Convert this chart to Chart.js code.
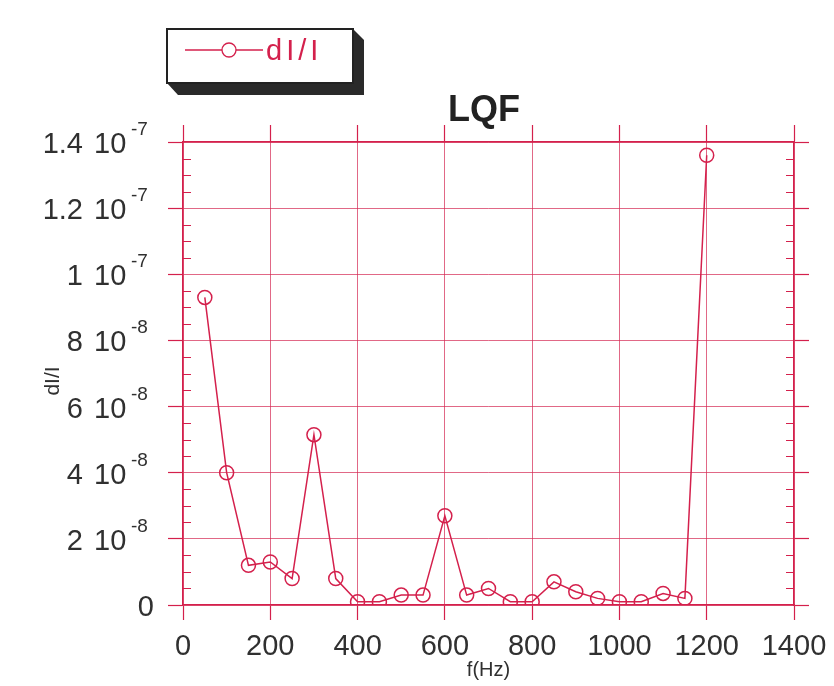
<!DOCTYPE html>
<html>
<head>
<meta charset="utf-8">
<script src="https://cdn.jsdelivr.net/npm/chart.js@4/dist/chart.umd.min.js"></script>
<style>
  html, body { margin: 0; padding: 0; background: #ffffff; }
  #wrap { position: relative; width: 834px; height: 686px; }
</style>
</head>
<body>
<div id="wrap"><canvas id="c" width="834" height="686"></canvas></div>
<script>
// ---- data ----
const chartTitle = 'LQF';
const seriesName = 'dI/I';
const xAxisTitle = 'f(Hz)';
const yAxisTitle = 'dI/I';
const freqs = [50, 100, 150, 200, 250, 300, 350, 400, 450, 500, 550, 600,
               650, 700, 750, 800, 850, 900, 950, 1000, 1050, 1100, 1150, 1200];
const dIoverI = [9.3e-8, 4.0e-8, 1.2e-8, 1.3e-8, 0.8e-8, 5.15e-8, 0.8e-8, 0.1e-8,
                 0.1e-8, 0.3e-8, 0.3e-8, 2.7e-8, 0.3e-8, 0.5e-8, 0.1e-8, 0.1e-8,
                 0.7e-8, 0.4e-8, 0.2e-8, 0.1e-8, 0.1e-8, 0.35e-8, 0.2e-8, 1.36e-7];
const xTickValues = [0, 200, 400, 600, 800, 1000, 1200, 1400];
const xTickLabels = ['0', '200', '400', '600', '800', '1000', '1200', '1400'];
const yTickValues = [0, 2e-8, 4e-8, 6e-8, 8e-8, 1e-7, 1.2e-7, 1.4e-7];
const yTickMantissa = ['0', '2', '4', '6', '8', '1', '1.2', '1.4'];
const yTickExponent = ['', '-8', '-8', '-8', '-8', '-7', '-7', '-7'];
const yMinorStep = 5e-9;

// ---- styles ----
const RED = 'rgb(212,32,76)';
const GRID = 'rgba(212,40,82,0.7)';
const TEXT = '#303030';
const FONT = "'Liberation Sans', Arial, sans-serif";

const decor = {
  id: 'decor',
  afterDraw(chart) {
    const ctx = chart.ctx;
    const ys = chart.scales.y;
    const ca = chart.chartArea;
    ctx.save();

    // minor ticks on left and right axes (inside)
    ctx.strokeStyle = RED;
    ctx.lineWidth = 1.2;
    const vmax = yTickValues[yTickValues.length - 1];
    for (let k = 1; k * yMinorStep < vmax - 1e-12; k++) {
      if (k % 4 === 0) continue;
      const py = Math.round(ys.getPixelForValue(k * yMinorStep)) + 0.5;
      ctx.beginPath();
      ctx.moveTo(ca.left, py); ctx.lineTo(ca.left + 8, py);
      ctx.moveTo(ca.right, py); ctx.lineTo(ca.right - 8, py);
      ctx.stroke();
    }

    // y tick labels with exponent
    ctx.fillStyle = TEXT;
    ctx.textBaseline = 'alphabetic';
    for (let i = 0; i < yTickValues.length; i++) {
      const py = ys.getPixelForValue(yTickValues[i]);
      if (yTickExponent[i] === '') {
        ctx.font = '29px ' + FONT;
        ctx.textAlign = 'right';
        ctx.fillText(yTickMantissa[i], 154, py + 11);
        continue;
      }
      ctx.font = '29px ' + FONT;
      ctx.textAlign = 'right';
      ctx.fillText(yTickMantissa[i], 83, py + 11);
      ctx.textAlign = 'left';
      ctx.fillText('10', 94, py + 11);
      ctx.font = '19px ' + FONT;
      ctx.fillText(yTickExponent[i], 131, py - 7);
    }

    // y axis title
    ctx.save();
    ctx.translate(53, 381);
    ctx.rotate(-Math.PI / 2);
    ctx.font = '21px ' + FONT;
    ctx.textAlign = 'center';
    ctx.textBaseline = 'middle';
    ctx.fillText(yAxisTitle, 0, 0);
    ctx.restore();

    // chart title
    ctx.font = 'bold 36px ' + FONT;
    ctx.fillStyle = '#222';
    ctx.textAlign = 'center';
    ctx.textBaseline = 'alphabetic';
    ctx.fillText(chartTitle, 484, 121);

    // legend box with 3D shadow
    const L = 167, T = 29, R = 353, B = 83, D = 11;
    ctx.fillStyle = '#2a2a2a';
    ctx.beginPath();
    ctx.moveTo(R, T);
    ctx.lineTo(R + D, T + D);
    ctx.lineTo(R + D, B + D + 1);
    ctx.lineTo(L + D, B + D + 1);
    ctx.lineTo(L, B);
    ctx.closePath();
    ctx.fill();
    ctx.fillStyle = '#fff';
    ctx.fillRect(L, T, R - L, B - T);
    ctx.strokeStyle = '#222';
    ctx.lineWidth = 2;
    ctx.strokeRect(L, T, R - L, B - T);
    // legend symbol
    ctx.strokeStyle = RED;
    ctx.lineWidth = 1.3;
    ctx.beginPath();
    ctx.moveTo(185, 50); ctx.lineTo(263, 50);
    ctx.stroke();
    ctx.beginPath();
    ctx.arc(229, 50, 7, 0, Math.PI * 2);
    ctx.fillStyle = '#fff';
    ctx.fill();
    ctx.stroke();
    ctx.fillStyle = RED;
    ctx.font = '29px ' + FONT;
    ctx.textAlign = 'left';
    if ('letterSpacing' in ctx) ctx.letterSpacing = '4px';
    ctx.fillText(seriesName, 266, 60);
    if ('letterSpacing' in ctx) ctx.letterSpacing = '0px';

    ctx.restore();
  }
};

const gridCommon = {
  color: GRID,
  lineWidth: 1,
  tickLength: 15,
  tickColor: RED,
  tickWidth: 1.2
};
const borderCommon = { display: true, color: RED, width: 1.5 };

new Chart(document.getElementById('c'), {
  type: 'line',
  data: {
    datasets: [{
      label: seriesName,
      data: freqs.map((f, i) => ({ x: f, y: dIoverI[i] })),
      borderColor: RED,
      borderWidth: 1.5,
      pointStyle: 'circle',
      pointRadius: 7,
      pointBorderWidth: 1.5,
      pointBorderColor: RED,
      pointBackgroundColor: 'rgba(255,255,255,0)',
      tension: 0,
      fill: false
    }]
  },
  options: {
    responsive: false,
    animation: false,
    devicePixelRatio: 1,
    layout: { padding: 0 },
    plugins: { legend: { display: false }, title: { display: false }, tooltip: { enabled: false } },
    scales: {
      x: {
        type: 'linear', position: 'bottom', min: 0, max: 1400,
        afterBuildTicks: s => { s.ticks = xTickValues.map(v => ({ value: v })); },
        afterFit: s => { s.height = 81; s.paddingLeft = 0; s.paddingRight = 0; },
        grid: gridCommon,
        border: borderCommon,
        ticks: {
          color: TEXT, padding: 10,
          font: { family: FONT, size: 29 },
          maxRotation: 0, autoSkip: false,
          callback: v => { const i = xTickValues.indexOf(v); return i >= 0 ? xTickLabels[i] : ''; }
        },
        title: { display: true, text: xAxisTitle, color: TEXT, font: { family: FONT, size: 20 }, padding: { top: 0, bottom: 4 } }
      },
      x2: {
        type: 'linear', position: 'top', min: 0, max: 1400,
        afterBuildTicks: s => { s.ticks = xTickValues.map(v => ({ value: v })); },
        afterFit: s => { s.height = 142; s.paddingLeft = 0; s.paddingRight = 0; },
        grid: Object.assign({}, gridCommon, { drawOnChartArea: false, tickLength: 17 }),
        border: borderCommon,
        ticks: { display: false }
      },
      y: {
        type: 'linear', position: 'left', min: 0, max: 1.4e-7,
        afterBuildTicks: s => { s.ticks = yTickValues.map(v => ({ value: v })); },
        afterFit: s => { s.width = 183; },
        grid: gridCommon,
        border: borderCommon,
        ticks: { display: false }
      },
      y2: {
        type: 'linear', position: 'right', min: 0, max: 1.4e-7,
        afterBuildTicks: s => { s.ticks = yTickValues.map(v => ({ value: v })); },
        afterFit: s => { s.width = 40; },
        grid: Object.assign({}, gridCommon, { drawOnChartArea: false }),
        border: borderCommon,
        ticks: { display: false }
      }
    }
  },
  plugins: [decor]
});
</script>
</body>
</html>
